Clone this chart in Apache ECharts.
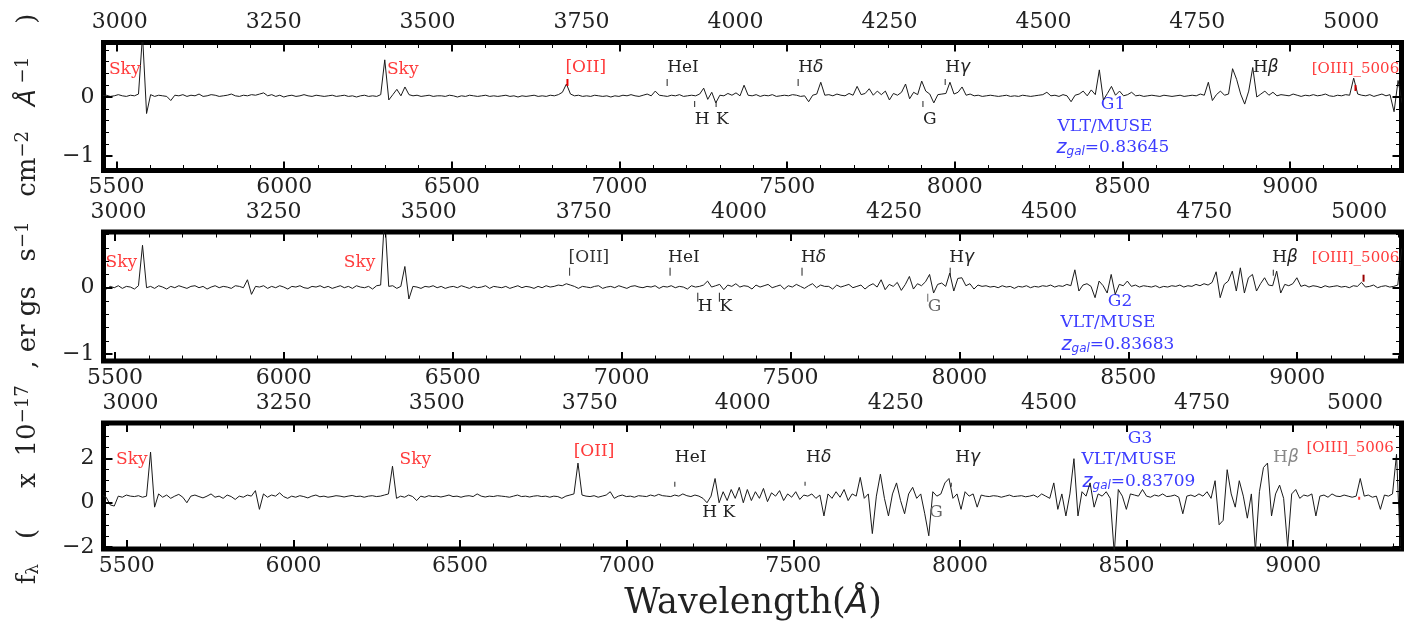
<!DOCTYPE html>
<html lang="en">
<head>
<meta charset="UTF-8" />
<title>MUSE spectra G1 G2 G3</title>
<style>
  html, body { margin: 0; padding: 0; background: #fff; }
  #chart { width: 1410px; height: 624px; }
</style>
</head>
<body>
<div id="chart"></div>
<script src="https://cdn.jsdelivr.net/npm/echarts@6.0.0/dist/echarts.min.js"></script>
<script>
// redshift of each galaxy
const galaxies = ["G1", "G2", "G3"];
const redshifts = [0.83645, 0.83683, 0.83709];

// wavelength sampling of each spectrum (observed, Angstrom)
const gridStart = [5457, 5462, 5426];
const gridStep = [12.04, 11.95, 12.1];

// axis ranges of each panel
const lamMin = [5461, 5466, 5430];
const lamMax = [9332, 9309, 9325];
const yMin = [-1.246, -1.105, -2.1];
const yMax = [0.924, 0.84, 3.62];

// tick labels
const obsTicks = [5500, 6000, 6500, 7000, 7500, 8000, 8500, 9000];
const restTicks = [3000, 3250, 3500, 3750, 4000, 4250, 4500, 4750, 5000];
const yTicks = [[-1, 0], [-1, 0], [-2, 0, 2]];
const yMinorStep = [0.2, 0.2, 0.5];

// spectral lines (rest frame) and sky lines (observed)
const lineNames = ["[OII]", "HeI", "Hδ", "Hγ", "Hβ", "[OIII]_5006", "H", "K", "G"];
const lineRest = [3727.1, 3889.0, 4101.7, 4340.5, 4861.3, 5006.8, 3933.7, 3968.5, 4304.4];
const skyNames = ["Sky", "Sky"];
const skyObs = [5577.3, 6300.3];

// flux (x 1e-17 erg s-1 cm-2 A-1)
const fluxG1 = [
  0.02,0.03,0.01,0.02,0.04,0.02,0.01,0.03,0.02,0.05,1.05,-0.28,0.04,0.01,0.03,0.02,0.01,-0.06,0.03,0.02,
  0.04,0.01,0.03,0.02,0.05,0.01,0.02,0.04,0.03,0.01,0.02,0.03,0.05,0.02,0.01,0.03,0.02,0.04,0.03,0.05,
  0.07,0.02,0.04,0.01,0.03,0.00,0.02,0.03,0.01,0.02,0.04,0.02,0.01,0.03,0.02,0.01,0.02,0.03,0.01,0.02,
  0.03,0.01,0.02,0.00,0.02,0.03,0.01,0.02,0.01,0.04,0.63,-0.05,0.04,0.13,0.02,0.17,0.04,0.02,0.03,0.01,
  0.02,0.03,0.01,0.02,0.02,0.01,0.03,0.02,0.00,0.02,0.01,0.03,0.02,0.01,0.02,0.03,0.01,0.02,0.01,0.02,
  0.03,0.01,0.02,0.00,0.02,0.01,0.02,0.03,0.01,0.02,0.01,0.03,0.02,0.04,0.08,0.22,0.05,0.02,0.03,0.01,
  0.02,0.01,0.03,0.02,0.01,0.02,0.00,0.02,0.01,0.03,0.02,0.04,0.02,0.01,0.03,0.05,0.02,0.10,0.03,0.02,
  0.01,0.03,0.02,0.04,0.01,0.02,0.03,0.02,0.05,0.15,-0.04,0.08,-0.10,0.03,0.02,0.06,0.03,0.07,0.02,0.20,
  0.03,0.02,0.04,0.01,0.03,0.02,0.04,0.01,0.02,0.03,0.02,0.04,0.03,0.01,0.02,-0.08,0.03,0.05,0.25,0.03,
  0.04,0.02,0.05,0.03,0.02,0.06,0.03,0.18,0.04,0.06,0.14,0.03,0.10,0.04,0.10,-0.05,0.06,0.03,0.08,0.22,
  -0.03,0.08,0.04,0.27,0.10,0.05,-0.10,0.04,0.05,0.06,0.25,0.05,0.08,0.17,0.03,0.05,0.02,0.03,0.01,0.02,
  0.03,0.02,0.01,0.02,0.03,0.01,0.02,0.01,0.03,0.02,0.01,0.02,0.03,0.04,0.08,0.02,0.03,0.01,0.04,0.02,
  -0.08,0.03,0.05,0.10,0.02,0.12,0.04,0.46,-0.05,0.06,0.18,0.03,0.10,0.02,0.04,0.08,0.02,0.03,0.01,0.02,
  0.03,0.02,0.01,0.03,0.02,0.01,0.02,0.03,0.01,0.02,0.03,0.02,0.05,0.03,0.25,-0.06,0.04,0.10,0.03,0.05,
  0.48,0.30,0.05,-0.12,0.10,0.50,0.00,0.05,0.10,0.03,0.08,0.02,0.04,0.03,0.02,0.05,0.03,0.01,0.03,0.02,
  0.04,0.02,0.03,0.05,0.02,0.01,0.03,0.02,0.04,0.03,0.32,0.05,0.03,0.02,0.04,0.01,0.03,0.05,0.02,0.04,
  -0.25,0.28,-0.10
];
const fluxG2 = [
  0.01,-0.02,0.02,0.00,0.03,-0.01,0.02,0.01,-0.02,0.03,0.64,0.00,0.02,-0.01,0.03,0.01,-0.02,0.02,0.00,0.03,
  0.01,-0.01,0.02,0.03,0.00,0.02,-0.02,0.01,0.03,0.00,0.02,0.01,-0.01,0.03,0.02,0.00,0.12,-0.10,0.02,0.01,
  0.03,-0.01,0.02,0.00,0.03,0.01,-0.02,0.02,0.01,0.03,0.00,-0.01,0.02,0.01,0.03,0.00,0.02,-0.01,0.01,0.03,
  0.00,0.02,-0.01,0.03,0.01,0.00,0.02,-0.02,0.03,0.04,1.10,0.02,0.03,-0.01,0.02,0.32,-0.17,0.02,0.01,-0.01,
  0.02,0.01,0.03,0.00,0.02,-0.01,0.01,0.02,0.00,0.03,0.01,-0.01,0.02,0.00,0.01,0.03,-0.01,0.02,0.01,0.00,
  0.02,-0.01,0.01,0.03,0.00,0.02,0.01,-0.01,0.02,0.00,0.03,0.01,0.02,0.04,0.03,0.06,0.04,0.02,-0.01,0.02,
  0.01,0.00,0.02,0.03,-0.01,0.01,0.02,0.00,0.03,0.01,-0.01,0.02,0.03,0.01,0.00,0.02,0.01,0.03,-0.01,0.02,
  0.01,0.03,0.00,0.02,0.01,-0.02,0.03,0.01,0.02,0.04,0.10,0.01,0.03,0.05,-0.03,0.04,0.02,0.06,0.01,0.03,
  0.02,-0.02,0.04,0.01,0.03,0.05,0.00,0.02,0.04,-0.02,0.03,0.01,0.05,0.02,-0.01,0.03,0.06,0.00,0.04,0.02,
  0.02,-0.02,0.04,0.01,0.03,0.05,0.00,0.02,0.04,-0.02,0.03,0.06,0.01,0.12,-0.03,0.05,0.02,0.08,-0.04,0.05,
  0.17,-0.02,0.06,0.03,0.09,0.20,-0.08,0.05,0.07,0.02,0.22,-0.05,0.14,0.15,0.03,0.06,-0.02,0.04,0.02,0.03,
  0.01,0.02,0.00,0.03,0.01,0.02,-0.01,0.02,0.01,0.03,0.00,0.02,0.01,0.03,0.02,0.04,0.01,0.03,0.02,0.05,
  0.03,0.27,-0.05,0.04,0.06,0.02,-0.15,0.10,0.03,-0.08,0.20,-0.10,0.05,0.03,0.10,0.02,0.04,0.01,0.03,0.02,
  0.01,0.03,0.00,0.02,0.01,0.03,0.02,0.04,0.01,0.03,0.02,0.05,0.03,0.06,0.04,0.08,0.24,-0.15,0.05,0.10,
  0.25,-0.05,0.30,-0.08,0.15,0.20,-0.05,0.06,0.15,0.04,0.03,0.25,-0.08,0.05,0.03,0.06,0.15,0.02,0.04,0.01,
  0.03,0.02,0.00,0.03,0.01,0.02,0.03,0.01,0.02,0.00,0.03,0.02,0.08,0.01,0.02,0.04,0.00,0.02,0.03,0.01,
  0.02,0.04,0.60
];
const fluxG3 = [
  0.35,0.25,-0.10,-0.15,0.30,0.25,0.35,0.30,0.28,0.32,0.25,0.30,2.30,-0.20,0.40,0.25,0.35,0.20,0.30,0.38,
  0.25,0.00,0.30,0.35,0.28,0.22,0.30,0.40,0.25,0.30,0.20,0.35,0.28,0.15,0.30,0.25,0.35,0.30,0.55,-0.30,
  0.40,0.25,0.35,0.30,0.45,0.28,0.20,0.30,0.25,0.32,0.28,0.22,0.30,0.35,0.27,0.30,0.25,0.28,0.32,0.30,
  0.26,0.30,0.33,0.28,0.30,0.25,0.30,0.32,0.28,0.30,0.35,0.40,1.66,0.20,0.30,0.25,0.35,0.28,0.10,0.30,
  0.25,0.32,0.28,0.30,0.26,0.30,0.35,0.28,0.30,0.25,0.30,0.32,0.28,0.40,0.30,0.26,0.30,0.28,0.32,0.30,
  0.28,0.25,0.30,0.35,0.28,0.30,0.26,0.30,0.32,0.28,0.30,0.25,0.30,0.28,0.20,0.30,0.35,0.40,1.80,0.35,
  0.30,0.28,0.32,0.25,0.30,0.35,0.50,0.20,0.30,0.35,0.28,0.30,0.25,0.32,0.30,0.28,0.35,0.30,0.38,0.32,
  0.30,0.28,0.35,0.30,0.40,0.32,0.28,0.35,0.30,0.20,0.00,0.30,1.10,0.00,0.50,0.10,0.60,0.20,0.70,0.00,
  0.60,0.10,0.50,0.20,0.65,0.05,0.45,0.30,0.55,0.10,0.40,0.25,0.50,0.15,0.35,0.30,0.40,0.20,0.35,-0.60,
  0.40,0.20,0.50,0.25,0.60,0.10,0.40,0.30,1.15,0.20,0.40,-1.40,0.30,1.30,0.20,-0.60,0.40,0.90,0.10,-0.50,
  0.40,0.70,0.20,0.40,-0.50,-1.50,0.50,0.30,0.40,0.90,1.10,0.20,0.40,-0.30,0.50,0.30,0.40,-0.20,0.35,0.30,
  0.28,0.32,0.30,0.25,0.30,0.35,0.28,0.30,0.32,0.27,0.30,0.35,0.25,0.40,0.30,0.20,0.90,-0.30,0.40,-0.60,
  0.40,2.00,-0.60,0.50,0.30,0.90,-0.20,0.40,0.30,0.50,0.20,-2.30,0.60,0.30,-0.30,0.40,0.35,0.30,0.60,0.30,
  0.25,0.35,0.30,0.40,0.28,0.30,0.35,0.25,-0.50,0.30,0.35,0.28,0.40,0.30,0.50,0.20,1.00,-1.00,-0.80,1.50,
  0.40,-0.20,1.00,0.30,-0.70,0.40,-2.20,0.50,1.60,1.80,-0.60,0.40,0.80,0.20,-2.00,0.40,0.60,0.20,0.35,0.30,
  0.40,-0.60,0.30,0.35,0.25,0.40,0.30,0.28,0.35,0.30,0.25,0.30,1.10,0.30,0.35,0.25,0.30,-0.30,0.35,0.30,
  0.40,2.20,-2.30
];
const fluxes = [fluxG1, fluxG2, fluxG3];

// ---------- layout ----------
const RED = "#ff3b3b", INK = "#222", GREY = "#666";
const SERIF = "DejaVu Serif";
const panelBox = [
  { top: 42.5, height: 128 },
  { top: 232, height: 129 },
  { top: 423, height: 126 }
];

// label placement per panel: [dx, dy, align, color, tick [y1, y2, color, width] | null]
const skyPlace = [
  [[-2, -27, "right"], [2, -27, "left"]],
  [[-4, -25, "right"], [-10, -25, "right"]],
  [[-5, -43, "right"], [6, -43, "left"]]
];
const linePlace = [
  {
    "[OII]": [-2, -29, "left", RED, [-18, -11, "#e00", 2]],
    "HeI": [0, -29, "left", INK, [-18, -11, INK, 1]],
    "Hδ": [0, -29, "left", INK, [-18, -11, INK, 1]],
    "Hγ": [0, -29, "left", INK, [-18, -12, INK, 1]],
    "Hβ": [-13, -29, "left", INK, null],
    "[OIII]_5006": [0, -28, "center", RED, [-12, -6, "#c00", 2]],
    "H": [0, 23, "left", INK, [4, 10, INK, 1]],
    "K": [0, 23, "left", INK, [4, 10, INK, 1]],
    "G": [0, 23, "left", INK, [4, 10, INK, 1]]
  },
  {
    "[OII]": [-1, -30, "left", "#333", [-20, -12, "#333", 1]],
    "HeI": [-2, -30, "left", INK, [-20, -12, INK, 1]],
    "Hδ": [-1, -30, "left", INK, [-20, -12, INK, 1]],
    "Hγ": [-1, -30, "left", INK, [-20, -12, INK, 1]],
    "Hβ": [-1, -30, "left", INK, [-18, -12, INK, 1]],
    "[OIII]_5006": [-8, -30, "center", RED, [-13, -6, "#900", 2]],
    "H": [0, 19, "left", INK, [5, 14, INK, 1]],
    "K": [0, 19, "left", INK, [5, 14, INK, 1]],
    "G": [0, 19, "left", GREY, [6, 14, GREY, 1]]
  },
  {
    "[OII]": [-2, -51, "left", RED, null],
    "HeI": [0, -45, "left", INK, [-21, -16, INK, 1]],
    "Hδ": [1, -45, "left", INK, [-21, -17, INK, 1]],
    "Hγ": [4, -45, "left", INK, [-20, -16, INK, 1]],
    "Hβ": [3, -45, "left", "#888", null],
    "[OIII]_5006": [-9, -55, "center", RED, [-6, -3, RED, 2]],
    "H": [0, 10, "left", INK, null],
    "K": [-1, 10, "left", INK, null],
    "G": [0, 10, "left", GREY, null]
  }
];
// blue text blocks: [centre x, y] of name, instrument, redshift
const bluePlace = [
  [[1113, 105], [1105, 127], [1113, 148]],
  [[1120, 302], [1108, 323], [1118, 345]],
  [[1140, 439], [1129, 460], [1139, 482]]
];

const tickFont = { fontFamily: SERIF, fontSize: 22, color: "#222" };
const minus = (v) => (v < 0 ? "\u2212" + -v : String(v));

function labelText(name) {
  if (name[0] === "H" && name.length === 2) return "{n|H}{g|" + name[1] + "}";
  return "{n|" + name + "}";
}

function minorObs(p) {
  const out = [];
  for (let v = Math.ceil(lamMin[p] / 100) * 100; v <= lamMax[p]; v += 100) {
    if (v % 500 !== 0) out.push(v);
  }
  return out;
}
function minorY(p) {
  const out = [];
  const s = yMinorStep[p];
  for (let k = Math.ceil(yMin[p] / s); k * s <= yMax[p]; k++) {
    const v = +(k * s).toFixed(3);
    if (!yTicks[p].includes(v)) out.push(v);
  }
  return out;
}

const grid = [], xAxis = [], yAxis = [], series = [], graphic = [];

for (let p = 0; p < 3; p++) {
  const z1 = 1 + redshifts[p];
  grid.push({
    left: 103.5, right: 8.5, top: panelBox[p].top, height: panelBox[p].height,
    show: true, borderColor: "#000", borderWidth: 5, backgroundColor: "transparent"
  });
  const xBase = {
    gridIndex: p, type: "value", min: lamMin[p], max: lamMax[p], z: 6,
    axisLine: { show: false, onZero: false }, splitLine: { show: false }
  };
  const yBase = {
    gridIndex: p, type: "value", min: yMin[p], max: yMax[p], z: 6,
    axisLine: { show: false, onZero: false }, splitLine: { show: false }
  };
  const major = { show: true, inside: true, length: 9, lineStyle: { color: "#000", width: 2 } };
  const minor = { show: true, inside: true, length: 5.5, lineStyle: { color: "#000", width: 1 } };

  // bottom: observed wavelength
  xAxis.push(Object.assign({}, xBase, {
    position: "bottom",
    axisTick: Object.assign({}, major, { customValues: obsTicks }),
    axisLabel: Object.assign({ margin: 6, customValues: obsTicks, formatter: (v) => String(v) }, tickFont)
  }));
  xAxis.push(Object.assign({}, xBase, {
    position: "bottom", axisLabel: { show: false },
    axisTick: Object.assign({}, minor, { customValues: minorObs(p) })
  }));
  // top: rest-frame wavelength labels, ticks mirrored from bottom
  xAxis.push(Object.assign({}, xBase, {
    position: "top",
    axisTick: Object.assign({}, major, { customValues: obsTicks }),
    axisLabel: Object.assign({
      margin: 9,
      customValues: restTicks.map((r) => r * z1),
      formatter: (v) => String(Math.round(v / z1))
    }, tickFont)
  }));
  xAxis.push(Object.assign({}, xBase, {
    position: "top", axisLabel: { show: false },
    axisTick: Object.assign({}, minor, { customValues: minorObs(p) })
  }));

  yAxis.push(Object.assign({}, yBase, {
    position: "left",
    axisTick: Object.assign({}, major, { customValues: yTicks[p] }),
    axisLabel: Object.assign({ margin: 9, customValues: yTicks[p], formatter: minus }, tickFont)
  }));
  yAxis.push(Object.assign({}, yBase, {
    position: "left", axisLabel: { show: false },
    axisTick: Object.assign({}, minor, { customValues: minorY(p) })
  }));
  yAxis.push(Object.assign({}, yBase, {
    position: "right", axisLabel: { show: false },
    axisTick: Object.assign({}, major, { customValues: yTicks[p] })
  }));
  yAxis.push(Object.assign({}, yBase, {
    position: "right", axisLabel: { show: false },
    axisTick: Object.assign({}, minor, { customValues: minorY(p) })
  }));

  const xi = 4 * p, yi = 4 * p;
  series.push({
    type: "line",
    xAxisIndex: xi, yAxisIndex: yi,
    data: fluxes[p].map((f, i) => [gridStart[p] + gridStep[p] * i, f]),
    showSymbol: false, symbol: "none", silent: true, clip: true,
    lineStyle: { color: "#1a1a1a", width: 1 }
  });

  // line identifications
  const items = [];
  skyObs.forEach((lam, k) => {
    const s = skyPlace[p][k];
    items.push({ lam: lam, text: "{n|" + skyNames[k] + "}", dx: s[0], dy: s[1], align: s[2], color: RED, tick: null, size: 17 });
  });
  lineNames.forEach((name, k) => {
    const s = linePlace[p][name];
    items.push({
      lam: lineRest[k] * z1, text: labelText(name), dx: s[0], dy: s[1], align: s[2],
      color: s[3], tick: s[4], size: name === "[OIII]_5006" ? 15 : 17
    });
  });
  series.push({
    type: "custom",
    xAxisIndex: xi, yAxisIndex: yi, silent: true, clip: false, z: 5,
    data: items.map((it) => [it.lam, 0]),
    renderItem: (params, api) => {
      const it = items[params.dataIndex];
      const pt = api.coord([api.value(0), 0]);
      const kids = [];
      if (it.tick) {
        kids.push({
          type: "line",
          shape: { x1: pt[0], y1: pt[1] + it.tick[0], x2: pt[0], y2: pt[1] + it.tick[1] },
          style: { stroke: it.tick[2], lineWidth: it.tick[3] }
        });
      }
      kids.push({
        type: "text",
        x: pt[0] + it.dx, y: pt[1] + it.dy,
        style: {
          text: it.text, align: it.align, verticalAlign: "middle",
          rich: {
            n: { fontFamily: SERIF, fontSize: it.size, fill: it.color },
            g: { fontFamily: "DejaVu Sans", fontStyle: "italic", fontSize: it.size, fill: it.color }
          }
        }
      });
      return { type: "group", children: kids };
    }
  });

  // galaxy name, instrument and redshift
  const bp = bluePlace[p];
  const blue = "#3c3cff";
  graphic.push({ type: "text", x: bp[0][0], y: bp[0][1], style: { text: galaxies[p], font: "17px 'DejaVu Serif'", fill: blue, align: "center", verticalAlign: "middle" } });
  graphic.push({ type: "text", x: bp[1][0], y: bp[1][1], style: { text: "VLT/MUSE", font: "17px 'DejaVu Serif'", fill: blue, align: "center", verticalAlign: "middle" } });
  graphic.push({
    type: "text", x: bp[2][0], y: bp[2][1],
    style: {
      text: "{z|z}{s|gal}{n|=" + redshifts[p].toFixed(5) + "}", align: "center", verticalAlign: "middle",
      rich: {
        z: { fontFamily: "DejaVu Sans", fontStyle: "italic", fontSize: 19, fill: blue },
        s: { fontFamily: "DejaVu Sans", fontStyle: "italic", fontSize: 12, fill: blue, verticalAlign: "bottom", padding: [8, 0, 0, 0] },
        n: { fontFamily: SERIF, fontSize: 17, fill: blue }
      }
    }
  });
}

// axis titles
graphic.push({
  type: "text", x: 753, y: 604,
  style: {
    text: "{t|Wavelength(}{a|Å}{t|)}", align: "center", verticalAlign: "middle",
    rich: {
      t: { fontFamily: SERIF, fontSize: 35, fill: "#222" },
      a: { fontFamily: "DejaVu Sans", fontStyle: "italic", fontSize: 33, fill: "#222" }
    }
  }
});
graphic.push({
  type: "text", x: 28, y: 299, rotation: Math.PI / 2,
  style: {
    text: "{t|f}{s|λ}{t|   (     x  10}{p|−17}{t|  , er gs   s}{p|−1}{t|   cm}{p|−2}{t|   }{a|Å}{p| −1}{t|    )}",
    align: "center", verticalAlign: "middle",
    rich: {
      t: { fontFamily: SERIF, fontSize: 26, fill: "#222" },
      s: { fontFamily: SERIF, fontSize: 17, fill: "#222", verticalAlign: "bottom", padding: [8, 0, 0, 0] },
      p: { fontFamily: SERIF, fontSize: 18, fill: "#222", verticalAlign: "top", padding: [0, 0, 10, 0] },
      a: { fontFamily: "DejaVu Sans", fontStyle: "italic", fontSize: 25, fill: "#222" }
    }
  }
});

const chart = echarts.init(document.getElementById("chart"), null, { renderer: "canvas" });
chart.setOption({
  animation: false,
  backgroundColor: "#fff",
  grid: grid,
  xAxis: xAxis,
  yAxis: yAxis,
  series: series,
  graphic: graphic
});
</script>
</body>
</html>
